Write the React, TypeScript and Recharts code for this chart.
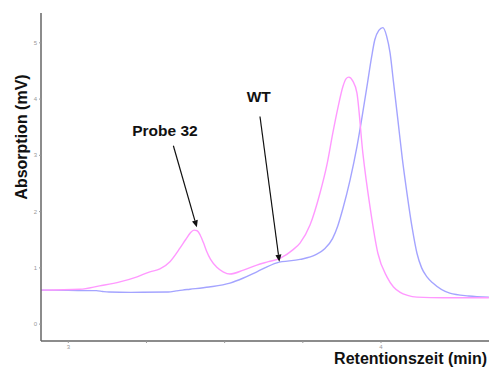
import React from 'react';
import { LineChart, Line, XAxis, YAxis, ReferenceLine, ReferenceDot, Customized } from 'recharts';

// Probe 32 (pink) chromatogram
const probeTime = [2.913, 3.037, 3.10, 3.165, 3.22, 3.261, 3.293, 3.325, 3.357, 3.375, 3.39, 3.402, 3.412, 3.422, 3.432, 3.442, 3.455, 3.475, 3.495, 3.517, 3.56, 3.603, 3.64, 3.677, 3.718, 3.741, 3.773, 3.805, 3.827, 3.846, 3.862, 3.878, 3.888, 3.897, 3.91, 3.923, 3.942, 3.965, 3.99, 4.019, 4.04, 4.06, 4.085, 4.115, 4.2, 4.345];
const probeAbs = [0.605, 0.62, 0.68, 0.75, 0.84, 0.93, 0.98, 1.11, 1.35, 1.5, 1.62, 1.67, 1.66, 1.58, 1.45, 1.3, 1.15, 1.01, 0.93, 0.89, 0.96, 1.05, 1.11, 1.17, 1.32, 1.44, 1.76, 2.33, 2.83, 3.4, 3.84, 4.22, 4.36, 4.39, 4.32, 4.11, 3.04, 2.08, 1.26, 0.84, 0.66, 0.57, 0.51, 0.48, 0.47, 0.47];

// WT (blue) chromatogram
const wtTime = [2.913, 3.0, 3.09, 3.11, 3.13, 3.2, 3.32, 3.345, 3.365, 3.389, 3.45, 3.517, 3.56, 3.603, 3.667, 3.741, 3.79, 3.82, 3.845, 3.862, 3.878, 3.901, 3.923, 3.94, 3.955, 3.97, 3.98, 3.993, 4.006, 4.018, 4.029, 4.04, 4.054, 4.068, 4.083, 4.1, 4.115, 4.13, 4.147, 4.166, 4.22, 4.28, 4.345];
const wtAbs = [0.605, 0.6, 0.595, 0.58, 0.57, 0.565, 0.57, 0.59, 0.605, 0.62, 0.66, 0.73, 0.82, 0.93, 1.09, 1.15, 1.23, 1.34, 1.52, 1.75, 2.05, 2.56, 3.15, 3.7, 4.22, 4.75, 5.05, 5.22, 5.27, 5.12, 4.82, 4.3, 3.63, 2.95, 2.33, 1.7, 1.26, 1.0, 0.84, 0.73, 0.55, 0.5, 0.48];

const xTicks = [3, 3.25, 3.5, 3.75, 4];
const xTickLabels: Record<string, string> = { '3': '3', '4': '4' };
const yTicks = [0, 1, 2, 3, 4, 5];

const probeData = probeTime.map((t, i) => ({ t, v: probeAbs[i] }));
const wtData = wtTime.map((t, i) => ({ t, v: wtAbs[i] }));

const FONT = '"Liberation Sans", Arial, sans-serif';

const Arrow = (p: any) => {
  const { x1, y1, x2, y2 } = p;
  const dx = x2 - x1;
  const dy = y2 - y1;
  const len = Math.sqrt(dx * dx + dy * dy);
  const ux = dx / len;
  const uy = dy / len;
  const hl = 7;
  const hw = 3;
  const bx = x2 - ux * hl;
  const by = y2 - uy * hl;
  const pts = `${x2},${y2} ${bx - uy * hw},${by + ux * hw} ${bx + uy * hw},${by - ux * hw}`;
  return (
    <g>
      <line x1={x1} y1={y1} x2={bx} y2={by} stroke="#111" strokeWidth={1.2} />
      <polygon points={pts} fill="#111" />
    </g>
  );
};

const makeText = (label: string) => (p: any) => (
  <text x={p.cx} y={p.cy} textAnchor="middle" fontFamily={FONT} fontWeight="bold" fontSize={15.5} fill="#111">
    {label}
  </text>
);

const Titles = () => (
  <g>
    <text x={27} y={137} transform="rotate(-90 27 137)" textAnchor="middle" fontFamily={FONT} fontWeight="bold" fontSize={16} fill="#111">
      Absorption (mV)
    </text>
    <text x={487} y={364} textAnchor="end" fontFamily={FONT} fontWeight="bold" fontSize={16} fill="#111">
      Retentionszeit (min)
    </text>
  </g>
);

export default function App() {
  return (
    <div style={{ position: 'absolute', left: 0, top: 0, background: '#fff' }}>
      <LineChart width={489} height={367} margin={{ top: 13, right: 0, bottom: 0, left: 0 }}>
        <XAxis
          xAxisId="b"
          type="number"
          dataKey="t"
          domain={[2.9127, 4.3454]}
          ticks={xTicks}
          tickFormatter={(v: number) => xTickLabels[String(v)] ?? ''}
          height={26}
          allowDataOverflow
          stroke="#666"
          strokeWidth={1.5}
          tickSize={2}
          tickLine={{ stroke: '#999', strokeWidth: 1 }}
          tickMargin={2}
          tick={{ fontSize: 6, fill: '#999', fontFamily: FONT }}
        />
        <XAxis
          xAxisId="top"
          orientation="top"
          type="number"
          dataKey="t"
          domain={[2.9127, 4.3454]}
          height={0}
          tick={false}
          tickLine={false}
          stroke="#aaa"
          strokeWidth={1.5}
          allowDataOverflow
        />
        <YAxis
          type="number"
          domain={[-0.3, 5.53]}
          ticks={yTicks}
          width={41}
          allowDataOverflow
          stroke="#666"
          strokeWidth={1.5}
          tickSize={2}
          tickLine={{ stroke: '#999', strokeWidth: 1 }}
          tickMargin={2}
          tick={{ fontSize: 6, fill: '#999', fontFamily: FONT }}
        />
        <Line xAxisId="b" data={wtData} dataKey="v" type="monotone" stroke="#a4a4ff" strokeWidth={1.4} dot={false} isAnimationActive={false} />
        <Line xAxisId="b" data={probeData} dataKey="v" type="monotone" stroke="#ff99ff" strokeWidth={1.4} dot={false} isAnimationActive={false} />
        <ReferenceLine xAxisId="b" segment={[{ x: 3.336, y: 3.17 }, { x: 3.411, y: 1.72 }]} shape={Arrow} ifOverflow="visible" />
        <ReferenceLine xAxisId="b" segment={[{ x: 3.613, y: 3.69 }, { x: 3.675, y: 1.11 }]} shape={Arrow} ifOverflow="visible" />
        <ReferenceDot xAxisId="b" x={3.309} y={3.34} r={0} shape={makeText('Probe 32')} ifOverflow="visible" />
        <ReferenceDot xAxisId="b" x={3.609} y={3.955} r={0} shape={makeText('WT')} ifOverflow="visible" />
        <Customized component={Titles} />
      </LineChart>
    </div>
  );
}
